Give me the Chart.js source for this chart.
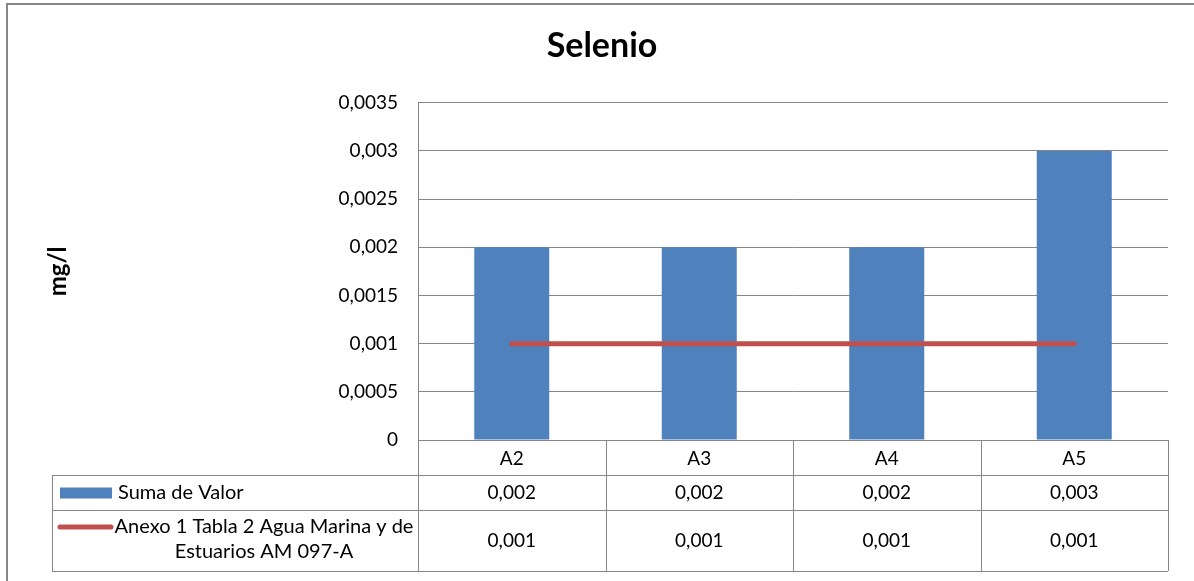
<!DOCTYPE html>
<html>
<head>
<meta charset="utf-8">
<script src="https://cdn.jsdelivr.net/npm/chart.js@4/dist/chart.umd.min.js"></script>
<style>
html,body{margin:0;padding:0;background:#fff;}
#wrap{position:relative;width:1194px;height:581px;}
</style>
</head>
<body>
<div id="wrap"><canvas id="c" width="1194" height="581"></canvas></div>
<script>
const categories = ['A2', 'A3', 'A4', 'A5'];
const sumaValues = [0.002, 0.002, 0.002, 0.003];
const limitValues = [0.001, 0.001, 0.001, 0.001];
const sumaLabels = ['0,002', '0,002', '0,002', '0,003'];
const limitLabels = ['0,001', '0,001', '0,001', '0,001'];
const yTickLabels = ['0', '0,0005', '0,001', '0,0015', '0,002', '0,0025', '0,003', '0,0035'];
const seriesNames = ['Suma de Valor', ['Anexo 1 Tabla 2 Agua Marina y de', 'Estuarios AM 097-A']];

const FONT = 'Lato, "Open Sans", sans-serif';
const GRID = '#868686';
const BLUE = '#4F81BD';
const RED = '#C0504D';

const tablePlugin = {
  id: 'dataTable',
  beforeDraw(chart) {
    const ctx = chart.ctx;
    ctx.save();
    ctx.fillStyle = '#fff';
    ctx.fillRect(0, 0, chart.width, chart.height);
    ctx.strokeStyle = GRID;
    ctx.lineWidth = 2;
    ctx.beginPath();
    ctx.moveTo(7, chart.height);
    ctx.lineTo(7, 4);
    ctx.lineTo(chart.width, 4);
    ctx.stroke();
    ctx.restore();
  },
  afterDraw(chart) {
    const ctx = chart.ctx;
    const area = chart.chartArea;
    const xs = chart.scales.x;
    const n = categories.length;
    const cw = (area.right - area.left) / n;
    const r0 = area.bottom, r1 = r0 + 35, r2 = r1 + 35, r3 = r2 + 61;
    const labelLeft = 52;
    ctx.save();
    ctx.strokeStyle = GRID;
    ctx.lineWidth = 1;
    const hl = (x1, x2, y) => { ctx.beginPath(); ctx.moveTo(x1, Math.round(y) + 0.5); ctx.lineTo(x2, Math.round(y) + 0.5); ctx.stroke(); };
    const vl = (x, y1, y2) => { ctx.beginPath(); ctx.moveTo(Math.round(x) + 0.5, y1); ctx.lineTo(Math.round(x) + 0.5, y2); ctx.stroke(); };
    hl(area.left, area.right, r0);
    hl(labelLeft, area.right, r1);
    hl(labelLeft, area.right, r2);
    hl(labelLeft, area.right, r3);
    vl(labelLeft, r1, r3);
    vl(area.left, area.top, r3);
    for (let i = 1; i <= n; i++) vl(area.left + cw * i, r0, r3);

    ctx.fillStyle = '#000';
    ctx.font = '19px ' + FONT;
    ctx.textAlign = 'center';
    ctx.textBaseline = 'middle';
    categories.forEach((c, i) => {
      const cx = xs.getPixelForValue(i);
      ctx.fillText(c, cx, (r0 + r1) / 2 + 1);
      ctx.fillText(sumaLabels[i], cx, (r1 + r2) / 2);
      ctx.fillText(limitLabels[i], cx, (r2 + r3) / 2);
    });

    // legend keys
    ctx.fillStyle = BLUE;
    ctx.fillRect(60, (r1 + r2) / 2 - 5, 52, 11);
    ctx.strokeStyle = RED;
    ctx.lineWidth = 5;
    ctx.lineCap = 'round';
    ctx.beginPath();
    ctx.moveTo(60, r2 + 17);
    ctx.lineTo(111, r2 + 17);
    ctx.stroke();

    ctx.fillStyle = '#000';
    ctx.font = '20px ' + FONT;
    ctx.textAlign = 'left';
    ctx.fillText(seriesNames[0], 118, (r1 + r2) / 2);
    ctx.textAlign = 'center';
    const tc = (118 + 410) / 2;
    ctx.fillText(seriesNames[1][0], tc, r2 + 17);
    ctx.fillText(seriesNames[1][1], tc, r2 + 42);
    ctx.restore();
  }
};

new Chart(document.getElementById('c'), {
  type: 'bar',
  data: {
    labels: categories,
    datasets: [
      {
        type: 'line',
        label: 'Anexo 1 Tabla 2 Agua Marina y de Estuarios AM 097-A',
        data: limitValues,
        borderColor: RED,
        backgroundColor: RED,
        borderWidth: 5,
        borderCapStyle: 'round',
        pointRadius: 0,
        order: 0
      },
      {
        label: 'Suma de Valor',
        data: sumaValues,
        backgroundColor: BLUE,
        categoryPercentage: 1,
        barPercentage: 0.4,
        order: 1
      }
    ]
  },
  options: {
    responsive: false,
    animation: false,
    devicePixelRatio: 1,
    layout: { padding: { left: 10, right: 0, top: 0, bottom: 0 } },
    plugins: {
      legend: { display: false },
      tooltip: { enabled: false },
      title: {
        display: true,
        text: 'Selenio',
        color: '#000',
        font: { family: FONT, size: 34, weight: 'bold' },
        padding: { top: 26, bottom: 36 }
      }
    },
    scales: {
      x: {
        offset: true,
        grid: { display: false, drawTicks: false },
        border: { display: false },
        ticks: { display: false },
        afterFit(scale) { scale.height = 141; }
      },
      y: {
        min: 0,
        max: 0.0035,
        ticks: {
          stepSize: 0.0005,
          padding: 20,
          color: '#000',
          font: { family: FONT, size: 19 },
          callback: (v, i) => yTickLabels[i]
        },
        grid: { color: GRID, lineWidth: 1, drawTicks: false },
        border: { display: true, color: GRID, width: 1 },
        title: {
          display: true,
          text: 'mg/l',
          color: '#000',
          font: { family: FONT, size: 24, weight: 'bold' },
          padding: { top: 34, bottom: 0 }
        },
        afterFit(scale) { scale.width = 408; }
      },
      yr: {
        position: 'right',
        display: true,
        min: 0,
        max: 0.0035,
        grid: { display: false, drawTicks: false },
        border: { display: false },
        ticks: { display: false },
        afterFit(scale) { scale.width = 26; }
      }
    }
  },
  plugins: [tablePlugin]
});
</script>
</body>
</html>
